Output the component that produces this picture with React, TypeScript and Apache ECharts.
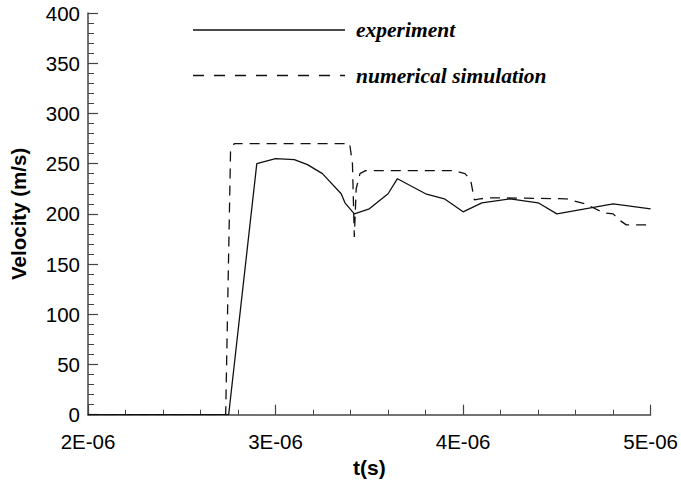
import React, { useEffect, useRef } from "react";
import * as echarts from "echarts";

// time in microseconds (axis labels shown as E-06 seconds)
const expTime = [2.0, 2.75, 2.9, 3.0, 3.1, 3.17, 3.25, 3.35, 3.37, 3.42, 3.5, 3.6, 3.65, 3.8, 3.9, 4.0, 4.1, 4.25, 4.4, 4.5, 4.8, 5.0];
const expVel = [0, 0, 250, 255, 254, 249, 240, 220, 211, 200, 205, 220, 235, 220, 215, 202, 211, 215, 211, 200, 210, 205];

const simTime = [2.0, 2.734, 2.76, 2.78, 3.395, 3.41, 3.42, 3.43, 3.45, 3.48, 3.95, 4.01, 4.04, 4.06, 4.09, 4.15, 4.55, 4.65, 4.75, 4.8, 4.84, 4.87, 5.0];
const simVel = [0, 0, 262, 270, 270, 250, 177, 225, 240, 243, 243, 240, 234, 214, 215, 216, 215, 210, 201, 200, 193, 189, 189];

const xTicks = [2, 3, 4, 5];
const yMin = 0;
const yMax = 400;
const legendNames = ["experiment", "numerical simulation"];

export default function App() {
  const ref = useRef<HTMLDivElement>(null);
  useEffect(() => {
    if (!ref.current) return;
    const chart = echarts.init(ref.current, null, { renderer: "svg" });
    const axisColor = "#444";
    const font = "'Liberation Sans', Arial, sans-serif";
    const legendFont = "italic bold 21.5px 'Liberation Serif', 'Times New Roman', serif";
    chart.setOption({
      animation: false,
      backgroundColor: "#fff",
      grid: { left: 87.5, right: 29, top: 13, bottom: 68.3, containLabel: false },
      xAxis: {
        type: "value",
        min: xTicks[0],
        max: xTicks[xTicks.length - 1],
        interval: 1,
        name: "t(s)",
        nameLocation: "middle",
        nameGap: 41,
        nameTextStyle: { fontFamily: font, fontWeight: "bold", fontSize: 21, color: "#000" },
        axisLine: { show: true, lineStyle: { color: axisColor, width: 1.5 } },
        axisTick: { show: true, inside: true, length: 10, lineStyle: { color: axisColor, width: 1.2 } },
        minorTick: { show: true, splitNumber: 5, length: 5, lineStyle: { color: axisColor, width: 1 } },
        splitLine: { show: false },
        axisLabel: {
          fontFamily: font,
          fontSize: 20.5,
          color: "#000",
          margin: 16,
          formatter: (v: number) => `${Math.round(v)}E-06`,
        },
      },
      yAxis: {
        type: "value",
        min: yMin,
        max: yMax,
        interval: 50,
        name: "Velocity (m/s)",
        nameLocation: "middle",
        nameGap: 59,
        nameRotate: 90,
        nameTextStyle: { fontFamily: font, fontWeight: "bold", fontSize: 20.5, color: "#000" },
        axisLine: { show: true, lineStyle: { color: axisColor, width: 1.5 } },
        axisTick: { show: true, inside: true, length: 10, lineStyle: { color: axisColor, width: 1.2 } },
        minorTick: { show: true, splitNumber: 5, length: 6, lineStyle: { color: axisColor, width: 1 } },
        splitLine: { show: false },
        axisLabel: { fontFamily: font, fontSize: 20.5, color: "#000", margin: 8 },
      },
      series: [
        {
          name: legendNames[0],
          type: "line",
          data: expTime.map((t, i) => [t, expVel[i]]),
          showSymbol: false,
          lineStyle: { color: "#111", width: 1.3, type: "solid" },
        },
        {
          name: legendNames[1],
          type: "line",
          data: simTime.map((t, i) => [t, simVel[i]]),
          showSymbol: false,
          lineStyle: { color: "#111", width: 1.3, type: [10, 7] },
        },
      ],
      graphic: [
        { type: "line", shape: { x1: 193, y1: 30, x2: 345, y2: 30 }, style: { stroke: "#111", lineWidth: 1.3 } },
        {
          type: "text", x: 356, y: 30,
          style: { text: legendNames[0], font: legendFont, fill: "#000", verticalAlign: "middle" },
        },
        { type: "line", shape: { x1: 193, y1: 75.5, x2: 345, y2: 75.5 }, style: { stroke: "#111", lineWidth: 1.3, lineDash: [11, 10] } },
        {
          type: "text", x: 356, y: 75.5,
          style: { text: legendNames[1], font: legendFont, fill: "#000", verticalAlign: "middle" },
        },
      ],
    });
    return () => chart.dispose();
  }, []);
  return <div ref={ref} style={{ position: "fixed", left: 0, top: 0, width: 681, height: 483 }} />;
}
